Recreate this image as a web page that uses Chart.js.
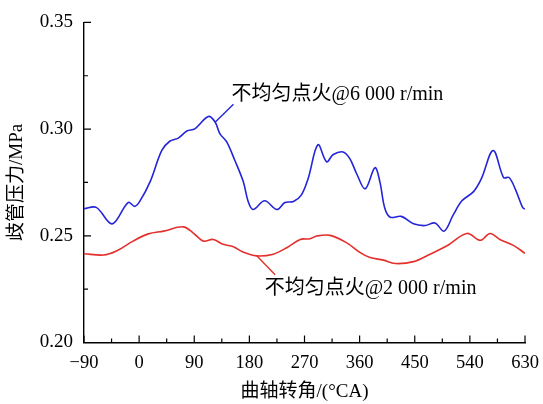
<!DOCTYPE html>
<html>
<head>
<meta charset="utf-8">
<script src="https://cdn.jsdelivr.net/npm/chart.js@4"></script>
<style>
  html, body { margin: 0; padding: 0; background: #fff; }
</style>
</head>
<body>
<canvas id="pressureChart" width="543" height="404"></canvas>
<script>
// crank angle (°CA) and manifold pressure (MPa)
const angleHigh = [-90, -70, -44, -18, -7, 1, 18, 37, 50, 64, 78, 91, 113, 124, 132, 143, 156, 170, 178, 186,
  205, 225, 238, 252, 265, 276, 292, 306, 317, 333, 344, 355, 369, 385, 393, 401, 410, 428, 448, 467,
  483, 498, 513, 527, 546, 559, 578, 595, 604, 614, 626, 630];
const pressureHigh = [0.2627, 0.2633, 0.2556, 0.2656, 0.2638, 0.2661, 0.2754, 0.2900, 0.2943, 0.2958, 0.2991, 0.3001, 0.3059, 0.3033, 0.2978, 0.2940, 0.2855, 0.2754, 0.2661, 0.2623,
  0.2664, 0.2623, 0.2656, 0.2661, 0.2692, 0.2769, 0.2927, 0.2847, 0.2881, 0.2893, 0.2862, 0.2792, 0.2720, 0.2819, 0.2754, 0.2630, 0.2587, 0.2591, 0.2556, 0.2548,
  0.2560, 0.2522, 0.2599, 0.2664, 0.2707, 0.2769, 0.2900, 0.2773, 0.2773, 0.2720, 0.2633, 0.2625];

const angleLow = [-90, -58, -37, -10, 15, 40, 72, 88, 105, 121, 137, 154, 168, 192, 219, 241, 263, 279, 290, 312,
  339, 361, 377, 399, 418, 448, 475, 502, 535, 557, 573, 589, 611, 630];
const pressureLow = [0.2416, 0.2410, 0.2429, 0.2475, 0.2509, 0.2522, 0.2542, 0.2514, 0.2475, 0.2483, 0.2460, 0.2449, 0.2426, 0.2406, 0.2414, 0.2444, 0.2483, 0.2486, 0.2499, 0.2502,
  0.2467, 0.2421, 0.2398, 0.2386, 0.2370, 0.2379, 0.2414, 0.2452, 0.2511, 0.2479, 0.2511, 0.2483, 0.2455, 0.2418];

const xTicks = [-90, 0, 90, 180, 270, 360, 450, 540, 630];
const yTicks = [0.20, 0.25, 0.30, 0.35];

const labelHigh = '不均匀点火@6 000 r/min';
const labelLow = '不均匀点火@2 000 r/min';
// label anchor [angle, pressure] and leader line [from, to]
const noteHigh = { text: [151, 0.3162], line: [[124, 0.3032], [154, 0.3117]] };
const noteLow = { text: [205, 0.2253], line: [[192, 0.2406], [222, 0.2318]] };

const textFont = '"Liberation Serif", "Noto Sans CJK SC", serif';

function toPoints(xs, ys) {
  return xs.map((x, i) => ({ x: x, y: ys[i] }));
}

// inward major + minor ticks on the left and bottom axes
const innerTicks = {
  id: 'innerTicks',
  afterDraw(chart) {
    const { ctx, chartArea: a, scales: { x, y } } = chart;
    ctx.save();
    ctx.strokeStyle = '#000';
    ctx.lineWidth = 1.2;
    ctx.beginPath();
    xTicks.forEach((v, i) => {
      const px = x.getPixelForValue(v);
      ctx.moveTo(px, a.bottom); ctx.lineTo(px, a.bottom - 7);
      if (i < xTicks.length - 1) {
        const mx = x.getPixelForValue((v + xTicks[i + 1]) / 2);
        ctx.moveTo(mx, a.bottom); ctx.lineTo(mx, a.bottom - 4);
      }
    });
    yTicks.forEach((v, i) => {
      const py = y.getPixelForValue(v);
      ctx.moveTo(a.left, py); ctx.lineTo(a.left + 7, py);
      if (i < yTicks.length - 1) {
        const my = y.getPixelForValue((v + yTicks[i + 1]) / 2);
        ctx.moveTo(a.left, my); ctx.lineTo(a.left + 4, my);
      }
    });
    ctx.stroke();
    ctx.restore();
  }
};

// series labels with leader lines
const seriesNotes = {
  id: 'seriesNotes',
  afterDatasetsDraw(chart) {
    const { ctx, scales: { x, y } } = chart;
    const draw = (note, text, color) => {
      ctx.strokeStyle = color;
      ctx.lineWidth = 1.4;
      ctx.beginPath();
      ctx.moveTo(x.getPixelForValue(note.line[0][0]), y.getPixelForValue(note.line[0][1]));
      ctx.lineTo(x.getPixelForValue(note.line[1][0]), y.getPixelForValue(note.line[1][1]));
      ctx.stroke();
      ctx.fillStyle = '#000';
      ctx.font = '20px ' + textFont;
      ctx.textAlign = 'left';
      ctx.textBaseline = 'middle';
      ctx.fillText(text, x.getPixelForValue(note.text[0]), y.getPixelForValue(note.text[1]));
    };
    ctx.save();
    draw(noteHigh, labelHigh, '#2424d8');
    draw(noteLow, labelLow, '#e3302c');
    ctx.restore();
  }
};

const ctx = document.getElementById('pressureChart').getContext('2d');

const pressureChart = new Chart(ctx, {
  type: 'line',
  data: {
    datasets: [
      {
        label: labelHigh,
        data: toPoints(angleHigh, pressureHigh),
        borderColor: '#2424d8',
        borderWidth: 1.6,
        pointRadius: 0,
        tension: 0.35,
        fill: false
      },
      {
        label: labelLow,
        data: toPoints(angleLow, pressureLow),
        borderColor: '#e3302c',
        borderWidth: 1.6,
        pointRadius: 0,
        tension: 0.35,
        fill: false
      }
    ]
  },
  options: {
    responsive: false,
    animation: false,
    layout: { padding: { top: 19, right: 18, left: 0, bottom: 0 } },
    plugins: {
      legend: { display: false },
      tooltip: { enabled: false }
    },
    scales: {
      x: {
        type: 'linear',
        min: -90,
        max: 630,
        afterFit: (scale) => {
          scale.height = 61.5;
          scale.paddingLeft = 0;
          scale.paddingRight = 0;
        },
        afterBuildTicks: (scale) => { scale.ticks = xTicks.map(v => ({ value: v })); },
        ticks: {
          color: '#000',
          padding: 10,
          maxRotation: 0,
          font: { family: textFont, size: 18.5 },
          callback: (v) => String(v).replace('-', '\u2212')
        },
        grid: { display: true, drawOnChartArea: false, drawTicks: false },
        border: { display: true, color: '#000', width: 1.4 },
        title: {
          display: true,
          text: '曲轴转角/(°CA)',
          color: '#000',
          font: { family: textFont, size: 19, lineHeight: 1 },
          padding: { top: 0, bottom: 2 }
        }
      },
      y: {
        min: 0.20,
        max: 0.35,
        afterFit: (scale) => { scale.width = 84; },
        afterBuildTicks: (scale) => { scale.ticks = yTicks.map(v => ({ value: v })); },
        ticks: {
          color: '#000',
          padding: 11,
          font: { family: textFont, size: 19 },
          callback: (v) => v.toFixed(2)
        },
        grid: { display: true, drawOnChartArea: false, drawTicks: false },
        border: { display: true, color: '#000', width: 1.4 },
        title: {
          display: true,
          text: '歧管压力/MPa',
          color: '#000',
          font: { family: textFont, size: 19, lineHeight: 1 },
          padding: { top: 8, bottom: 0 }
        }
      }
    }
  },
  plugins: [innerTicks, seriesNotes]
});
</script>
</body>
</html>
